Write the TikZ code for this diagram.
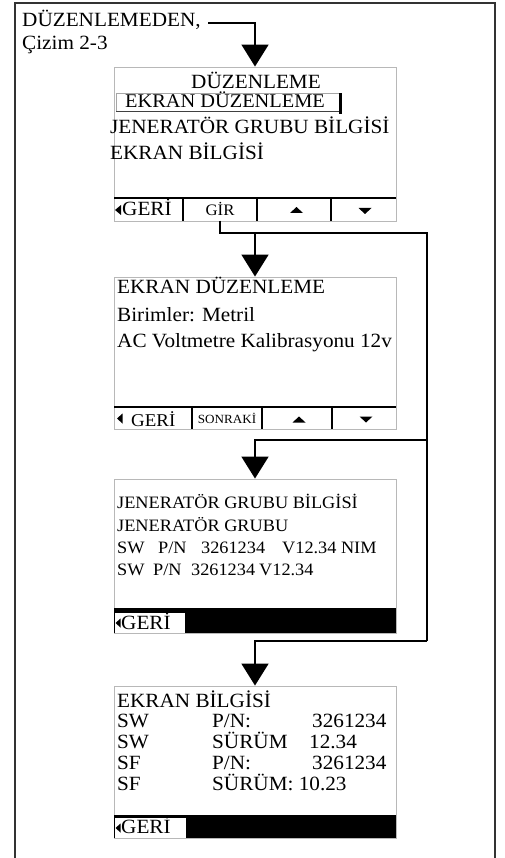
\documentclass[tikz,border=0pt]{standalone}
\usepackage{fontspec}
\setmainfont{Liberation Serif}[FakeStretch=1.05]
\usetikzlibrary{arrows.meta}
\newcommand\fsz[1]{\fontsize{#1}{#1}\selectfont}
\tikzset{
  frame/.style={draw=black!80, line width=1.6pt},
  screen/.style={draw=black!28, line width=0.9pt, fill=white, minimum width=282pt, inner sep=0pt, rectangle},
  txt/.style={inner sep=0pt, anchor=base west, font=\fsz{20.2}},
  stxt/.style={inner sep=0pt, anchor=base west, font=\fsz{17.4}},
  bar/.style={line width=2.4pt, black},
  divline/.style={line width=2.4pt, black},
  key/.style={inner sep=0pt, minimum height=22pt},
  conn/.style={line width=1.8pt, black},
  arr/.style={conn, -{Triangle[width=27pt,length=22pt]}},
  tri/.style={fill=black},
}
\begin{document}
\begin{tikzpicture}[x=1pt,y=-1pt]
\useasboundingbox (0,0) rectangle (505,858);
\draw[frame] (15,870) -- (15,3) -- (495,3) -- (495,870);

% heading
\node[txt] (from) at (22,27) {DÜZENLEMEDEN,};
\node[txt] (ref) at (22,50) {Çizim 2-3};

% ---------- screen 1
\node[screen, minimum height=154pt] (s1) at (255,144) {};
\node[inner sep=0pt, anchor=base, font=\fsz{20.2}] (t1) at (256,88.5) {DÜZENLEME};
\node[draw=black!35, line width=0.8pt, minimum width=225pt, minimum height=18pt, inner sep=0pt] (hl) at (229,102.5) {};
\draw[line width=0.9pt, black!75] (hl.south west) -- (hl.south east);
\draw[line width=3pt] ([xshift=-1.5pt]hl.north east) -- ([xshift=-1.5pt,yshift=-2pt]hl.south east);
\node[inner sep=0pt, anchor=base west, font=\fsz{19.4}] (m1) at (125,108) {EKRAN DÜZENLEME};
\node[txt] (m2) at (110,134) {JENERATÖR GRUBU BİLGİSİ};
\node[txt] (m3) at (110,160) {EKRAN BİLGİSİ};
\draw[bar] (114,198) -- (396,198);
\draw[divline] (183,198) -- (183,221);
\draw[divline] (257,198) -- (257,221);
\draw[divline] (331,198) -- (331,221);
\fill[tri] (115,210) -- (121,205) -- (121,215) -- cycle;
\node[txt] (b1) at (122,216) {GERİ};
\node[key, minimum width=74pt] (gir) at (220,209.5) {};
\node[inner sep=0pt, anchor=base, font=\fsz{16}] (girt) at (220,215.5) {GİR};
\fill[tri] (290,213) -- (303,213) -- (296.5,207) -- cycle;
\fill[tri] (358.5,208) -- (371.5,208) -- (365,214) -- cycle;

% ---------- screen 2
\node[screen, minimum height=152pt] (s2) at (255,353) {};
\node[txt] (e1) at (117,294) {EKRAN DÜZENLEME};
\node[txt] (e2) at (117,321) {Birimler: Metril};
\node[txt] (e3) at (117,347) {AC Voltmetre Kalibrasyonu 12v};
\draw[bar] (114,407) -- (396,407);
\draw[divline] (192,407) -- (192,429);
\draw[divline] (262,407) -- (262,429);
\draw[divline] (332,407) -- (332,429);
\fill[tri] (117,418.5) -- (122.5,413.5) -- (122.5,423.5) -- cycle;
\node[inner sep=0pt, anchor=base west, font=\fsz{18}] (b2) at (131,426.5) {GERİ};
\node[inner sep=0pt, anchor=base, font=\fsz{12.5}] (next) at (227,423) {SONRAKİ};
\fill[tri] (292.5,422.5) -- (305.5,422.5) -- (299,416.5) -- cycle;
\fill[tri] (359.5,416.5) -- (372.5,416.5) -- (366,422.5) -- cycle;

% ---------- screen 3
\node[screen, minimum height=154pt] (s3) at (255,556) {};
\node[stxt] (g1) at (117,508) {JENERATÖR GRUBU BİLGİSİ};
\node[stxt] (g2) at (117,531) {JENERATÖR GRUBU};
\node[stxt] (g3a) at (117,553) {SW};
\node[stxt] (g3b) at (158,553) {P/N};
\node[stxt] (g3c) at (201,553) {3261234};
\node[stxt] (g3d) at (282,553) {V12.34 NIM};
\node[stxt] (g4a) at (117,575) {SW};
\node[stxt] (g4b) at (153,575) {P/N};
\node[stxt] (g4c) at (191,575) {3261234};
\node[stxt] (g4d) at (259,575) {V12.34};
\fill[black] (114,608) rectangle (396,633);
\fill[white] (114.5,613) rectangle (185,632.5);
\fill[tri] (115.5,623) -- (120.5,618.5) -- (120.5,627.5) -- cycle;
\node[txt] (b3) at (121,629) {GERİ};

% ---------- screen 4
\node[screen, minimum height=152pt] (s4) at (255,762) {};
\node[txt] (h1) at (117,707) {EKRAN BİLGİSİ};
\node[txt] (h2a) at (117,727) {SW};
\node[txt] (h2b) at (212,727) {P/N:};
\node[txt] (h2c) at (312,727) {3261234};
\node[txt] (h3a) at (117,748) {SW};
\node[txt] (h3b) at (212,748) {SÜRÜM};
\node[txt] (h3c) at (309,748) {12.34};
\node[txt] (h4a) at (117,769) {SF};
\node[txt] (h4b) at (212,769) {P/N:};
\node[txt] (h4c) at (312,769) {3261234};
\node[txt] (h5a) at (117,790) {SF};
\node[txt] (h5b) at (212,790) {SÜRÜM: 10.23};
\fill[black] (114,815) rectangle (396,838);
\fill[white] (114.5,818) rectangle (186,837.5);
\fill[tri] (115.5,828) -- (120.5,823.5) -- (120.5,832.5) -- cycle;
\node[txt] (b4) at (121,833) {GERİ};

% ---------- connectors
\coordinate (c0) at (208,23);
\draw[arr] (c0) -| (s1.north);
\coordinate (j1) at (255,233);
\coordinate (r1) at (427,233);
\coordinate (r2) at (427,440);
\coordinate (r3) at (427,641);
\draw[conn] (gir.south) |- (r1) -- (r3);
\draw[arr] (j1) -- (s2.north);
\draw[arr] (r2) -| (s3.north);
\draw[arr] (r3) -| (s4.north);
\end{tikzpicture}
\end{document}
